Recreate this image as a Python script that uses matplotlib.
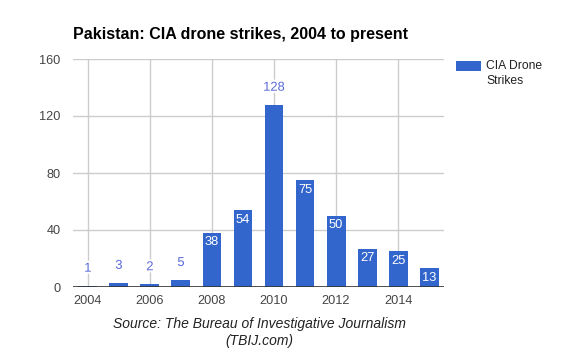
import matplotlib
matplotlib.use("Agg")
import matplotlib.pyplot as plt
import matplotlib.patheffects as pe
from matplotlib.patches import Rectangle

plt.rcParams['font.family'] = ['Liberation Sans', 'DejaVu Sans']

# data
years = [2004, 2005, 2006, 2007, 2008, 2009, 2010, 2011, 2012, 2013, 2014, 2015]
strikes = [1, 3, 2, 5, 38, 54, 128, 75, 50, 27, 25, 13]
xticks = [2004, 2006, 2008, 2010, 2012, 2014]
yticks = [0, 40, 80, 120, 160]
series_name = ["CIA Drone", "Strikes"]
title = "Pakistan: CIA drone strikes, 2004 to present"
source = ["Source: The Bureau of Investigative Journalism", "(TBIJ.com)"]

blue = '#3366cc'
W, H = 572, 355
fig = plt.figure(figsize=(W / 100, H / 100), dpi=100)
ax = fig.add_axes([73 / W, 1 - 287 / H, 371 / W, 228 / H])

bars = ax.bar(years, strikes, width=0.61, color=blue, zorder=2)

ax.set_xlim(2003.52, 2015.48)
ax.set_ylim(0, 160)
ax.set_xticks(xticks)
ax.set_yticks(yticks)
ax.grid(True, color='#cccccc', lw=1, zorder=0)
ax.set_axisbelow(True)
for s in ax.spines.values():
    s.set_visible(False)
ax.axhline(0, color='#333333', lw=1.2, zorder=3)
ax.tick_params(length=0, labelsize=9.2, labelcolor='#444444')
ax.tick_params(axis='y', pad=9)
ax.tick_params(axis='x', pad=6)

# value labels
for b, v in zip(bars, strikes):
    x = b.get_x() + b.get_width() / 2
    if 10 <= v < 100:
        ax.annotate(str(v), (x, v), xytext=(0, -2.5), textcoords='offset points',
                    ha='center', va='top', color='white', fontsize=9.3, zorder=4)
    else:
        t = ax.annotate(str(v), (x, v), xytext=(0, 10), textcoords='offset points',
                        ha='center', va='baseline', color='#5a6ad8', fontsize=9.3, zorder=4)
        t.set_path_effects([pe.withStroke(linewidth=3, foreground='white')])

fig.text(73 / W, 1 - 39 / H, title, fontsize=11.5, fontweight='bold', color='black', va='baseline')

# legend, drawn by hand to get the google-charts layout
fig.patches.append(Rectangle((456 / W, 1 - 71 / H), 25 / W, 10 / H, transform=fig.transFigure,
                             facecolor=blue, edgecolor='none'))
fig.text(486 / W, 1 - 69 / H, series_name[0], fontsize=8.7, color='#222222', va='baseline')
fig.text(486 / W, 1 - 84 / H, series_name[1], fontsize=8.7, color='#222222', va='baseline')

fig.text(259 / W, 1 - 328 / H, source[0], ha='center', va='baseline', fontsize=10,
         style='italic', color='#222222')
fig.text(259 / W, 1 - 345 / H, source[1], ha='center', va='baseline', fontsize=10,
         style='italic', color='#222222')

fig.savefig('out.png', dpi=100)
